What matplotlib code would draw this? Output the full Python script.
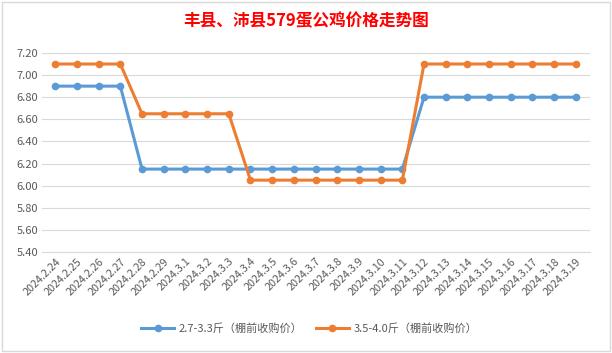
import matplotlib.pyplot as plt

plt.rcParams['font.family'] = ['Noto Sans CJK SC', 'DejaVu Sans']

fechas = ['2024.2.24', '2024.2.25', '2024.2.26', '2024.2.27', '2024.2.28', '2024.2.29',
          '2024.3.1', '2024.3.2', '2024.3.3', '2024.3.4', '2024.3.5', '2024.3.6',
          '2024.3.7', '2024.3.8', '2024.3.9', '2024.3.10', '2024.3.11', '2024.3.12',
          '2024.3.13', '2024.3.14', '2024.3.15', '2024.3.16', '2024.3.17', '2024.3.18',
          '2024.3.19']
precio_pequeno = [6.90, 6.90, 6.90, 6.90, 6.15, 6.15, 6.15, 6.15, 6.15, 6.15, 6.15, 6.15,
                  6.15, 6.15, 6.15, 6.15, 6.15, 6.80, 6.80, 6.80, 6.80, 6.80, 6.80, 6.80,
                  6.80]
precio_grande = [7.10, 7.10, 7.10, 7.10, 6.65, 6.65, 6.65, 6.65, 6.65, 6.05, 6.05, 6.05,
                 6.05, 6.05, 6.05, 6.05, 6.05, 7.10, 7.10, 7.10, 7.10, 7.10, 7.10, 7.10,
                 7.10]
nombres = ['2.7-3.3斤（棚前收购价）', '3.5-4.0斤（棚前收购价）']

fig = plt.figure(figsize=(6.12, 3.53), dpi=100)
ax = fig.add_axes([0.069, 0.286, 0.895, 0.564])

x = range(len(fechas))
ax.plot(x, precio_pequeno, color='#5B9BD5', linewidth=2.2, marker='o', markersize=4.5,
        label=nombres[0])
ax.plot(x, precio_grande, color='#ED7D31', linewidth=2.2, marker='o', markersize=4.5,
        label=nombres[1])

ax.set_ylim(5.40, 7.20)
ax.set_yticks([5.40 + 0.2 * i for i in range(10)])
ax.set_yticklabels(['%.2f' % (5.40 + 0.2 * i) for i in range(10)], fontsize=8, color='#595959')
ax.set_xlim(-0.6, len(fechas) - 0.35)
ax.set_xticks(list(x))
ax.set_xticklabels(fechas, rotation=45, ha='right', rotation_mode='anchor', fontsize=7.8,
                   color='#595959')
ax.grid(True, axis='y', color='#D9D9D9', linewidth=0.8)
ax.set_axisbelow(True)
for s in ax.spines.values():
    s.set_visible(False)
ax.spines['bottom'].set_visible(True)
ax.spines['bottom'].set_color('#D9D9D9')
ax.tick_params(length=0, pad=3)

fig.text(0.5, 0.94, '丰县、沛县579蛋公鸡价格走势图', ha='center', va='center',
         fontsize=12, fontweight='bold', color='#FF0000')

fig.legend(loc='center', bbox_to_anchor=(0.505, 0.07), ncol=2, frameon=False, fontsize=8,
           labelcolor='#595959', handlelength=3, handletextpad=0.4, columnspacing=1.2)

fig.patches.append(plt.Rectangle((0.003, 0.005), 0.994, 0.99, transform=fig.transFigure,
                                 fill=False, edgecolor='#D9D9D9', linewidth=1))

fig.savefig('out.png', dpi=100)
